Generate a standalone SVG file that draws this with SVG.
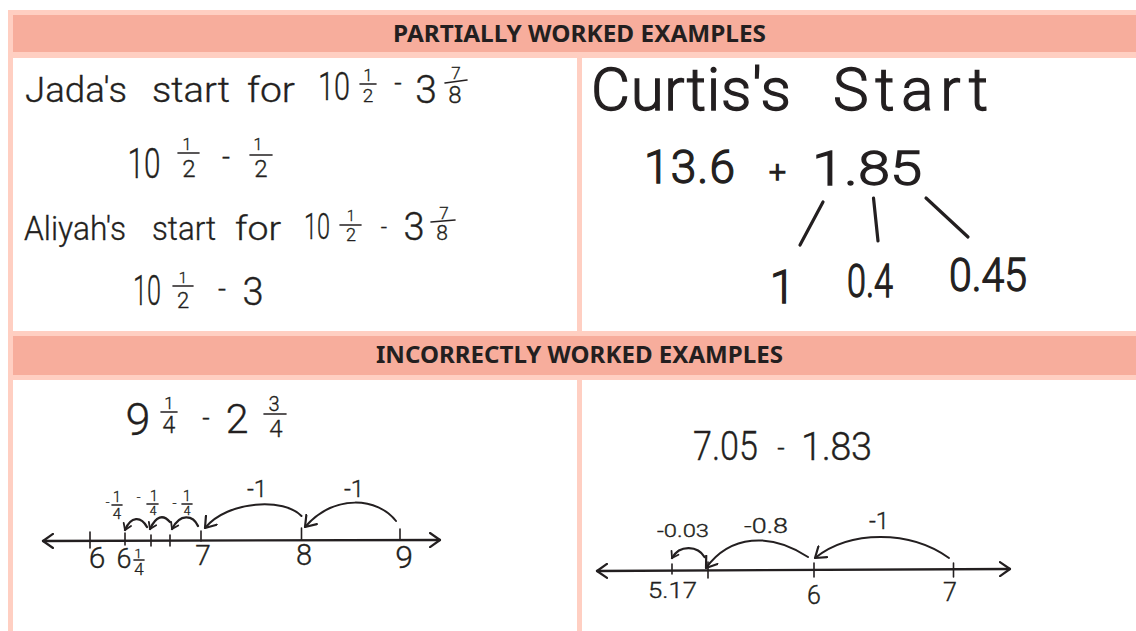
<svg xmlns="http://www.w3.org/2000/svg" width="1136" height="631" viewBox="0 0 1136 631">
<style>
.band{fill:#f7ad9c}
.head{font-family:"Noto Sans","Liberation Sans",sans-serif;font-weight:700;font-size:23px;fill:#231f20;text-anchor:middle}
.h{font-family:"Roboto","Liberation Sans",sans-serif;font-weight:300;fill:#231f20;stroke:#231f20;stroke-width:.35;text-anchor:middle}
.b{stroke-width:1.3}
.l{fill:none;stroke:#231f20;stroke-width:1.6;stroke-linecap:round}
.t{stroke-width:3.2}
.a{fill:none;stroke:#231f20;stroke-width:2;stroke-linecap:round}
.n{fill:none;stroke:#231f20;stroke-width:2.3;stroke-linecap:round}
</style>
<defs>
<marker id="open" viewBox="-11 -8 13 16" refX="0" refY="0" markerUnits="userSpaceOnUse" markerWidth="13" markerHeight="16" orient="auto-start-reverse"><path d="M-10-7L0 0L-10 7" fill="none" stroke="#231f20" stroke-width="2.2" stroke-linecap="round" stroke-linejoin="round"/></marker>
<marker id="small" viewBox="-8 -6 10 12" refX="0" refY="0" markerUnits="userSpaceOnUse" markerWidth="10" markerHeight="12" orient="auto"><path d="M-6-4L0 0L-6 4" fill="none" stroke="#231f20" stroke-width="1.8" stroke-linecap="round" stroke-linejoin="round"/></marker>
</defs>
<rect x="8" y="10" width="1128" height="621" fill="#ffcfc2"/>

<g id="band-partial"><rect class="band" x="13" y="15" width="1123" height="37"/><text class="head" x="579.5" y="42" textLength="373" lengthAdjust="spacingAndGlyphs">PARTIALLY WORKED EXAMPLES</text></g>

<g id="panel-jada-aliyah">
<rect x="13" y="58" width="564" height="273" fill="#fff"/>
<text class="h" x="76" y="102" font-size="35" textLength="102" lengthAdjust="spacingAndGlyphs">Jada's</text>
<text class="h" x="191" y="102" font-size="35" textLength="78" lengthAdjust="spacingAndGlyphs">start</text>
<text class="h" x="271" y="102" font-size="35" textLength="48" lengthAdjust="spacingAndGlyphs">for</text>
<text class="h" x="334" y="100" font-size="38" textLength="32" lengthAdjust="spacingAndGlyphs">10</text>
<text class="h" x="368" y="81" font-size="16">1</text><path class="l" d="M360 84H376"/><text class="h" x="368" y="102" font-size="19">2</text>
<text class="h" x="398" y="92" font-size="26">-</text>
<text class="h" x="426" y="103" font-size="39">3</text>
<text class="h" x="456" y="79" font-size="17">7</text><path class="l" d="M445 83L467 80"/><text class="h" x="455" y="103" font-size="24">8</text>

<text class="h" x="144" y="178" font-size="42" textLength="33" lengthAdjust="spacingAndGlyphs">10</text>
<text class="h" x="187" y="150" font-size="16">1</text><path class="l" d="M178 153H199"/><text class="h" x="189" y="177" font-size="24">2</text>
<text class="h" x="226" y="166" font-size="28">-</text>
<text class="h" x="258" y="150" font-size="16">1</text><path class="l" d="M250 155H272"/><text class="h" x="261" y="177" font-size="24">2</text>

<text class="h" x="75" y="240" font-size="33" textLength="102" lengthAdjust="spacingAndGlyphs">Aliyah's</text>
<text class="h" x="184" y="240" font-size="33" textLength="64" lengthAdjust="spacingAndGlyphs">start</text>
<text class="h" x="258" y="240" font-size="33" textLength="46" lengthAdjust="spacingAndGlyphs">for</text>
<text class="h" x="317" y="239" font-size="36" textLength="26" lengthAdjust="spacingAndGlyphs">10</text>
<text class="h" x="351" y="221" font-size="14">1</text><path class="l" d="M340 225H361"/><text class="h" x="351" y="241" font-size="18">2</text>
<text class="h" x="384" y="235" font-size="22">-</text>
<text class="h" x="414" y="240" font-size="38">3</text>
<text class="h" x="444" y="219" font-size="17">7</text><path class="l" d="M431 222L455 220"/><text class="h" x="442" y="240" font-size="21">8</text>

<text class="h" x="147" y="305" font-size="42" textLength="28" lengthAdjust="spacingAndGlyphs">10</text>
<text class="h" x="183" y="283" font-size="15">1</text><path class="l" d="M173 286H193"/><text class="h" x="183" y="308" font-size="22">2</text>
<text class="h" x="222" y="298" font-size="28">-</text>
<text class="h" x="253" y="305" font-size="38">3</text>
</g>

<g id="panel-curtis">
<rect x="582" y="58" width="554" height="273" fill="#fff"/>
<text class="h b" x="691" y="110" font-size="60" textLength="200">Curtis's</text>
<text class="h b" x="910.5" y="110" font-size="60" textLength="155">Start</text>
<text class="h b" x="689.5" y="183" font-size="46" textLength="91">13.6</text>
<text class="h b" x="777.5" y="182" font-size="30">+</text>
<text class="h b" x="867" y="185" font-size="48" textLength="110" lengthAdjust="spacingAndGlyphs">1.85</text>
<text class="h b" x="782.5" y="303" font-size="46">1</text>
<text class="h b" x="870" y="297" font-size="46" textLength="46" lengthAdjust="spacingAndGlyphs">0.4</text>
<text class="h b" x="988" y="291" font-size="46" textLength="78" lengthAdjust="spacingAndGlyphs">0.45</text>
</g>

<g id="band-incorrect"><rect class="band" x="13" y="336" width="1123" height="39"/><text class="head" x="579.5" y="363" textLength="407" lengthAdjust="spacingAndGlyphs">INCORRECTLY WORKED EXAMPLES</text></g>

<g id="panel-fractions">
<rect x="13" y="380" width="564" height="251" fill="#fff"/>
<text class="h" x="138" y="435" font-size="45">9</text>
<text class="h" x="169" y="409" font-size="17">1</text><path class="l" d="M161 412H177"/><text class="h" x="169" y="433" font-size="23">4</text>
<text class="h" x="206" y="427" font-size="26">-</text>
<text class="h" x="237" y="433" font-size="41">2</text>
<text class="h" x="274" y="411" font-size="20">3</text><path class="l" d="M264 414H286"/><text class="h" x="276" y="437" font-size="24">4</text>

<text class="h" x="97" y="568" font-size="30">6</text>
<text class="h" x="124" y="568" font-size="27">6</text>
<text class="h" x="138" y="558" font-size="13">1</text><path class="l" d="M134 560H144"/><text class="h" x="139" y="575" font-size="17">4</text>
<text class="h" x="203" y="565" font-size="28">7</text>
<text class="h" x="304" y="565" font-size="29">8</text>
<text class="h" x="404" y="568" font-size="32">9</text>

<text class="h" x="257" y="497" font-size="24">-1</text>
<text class="h" x="354" y="497" font-size="24">-1</text>
<text class="h" x="107.500" y="507" font-size="13">-</text>
<text class="h" x="117" y="502" font-size="14">1</text><path class="l" d="M112 505H122"/><text class="h" x="117" y="519" font-size="15">4</text>
<text class="h" x="138.500" y="502" font-size="13">-</text>
<text class="h" x="154" y="501" font-size="14">1</text><path class="l" d="M147 504H158"/><text class="h" x="153" y="515" font-size="12">4</text>
<text class="h" x="174.500" y="508" font-size="14">-</text>
<text class="h" x="187" y="501" font-size="14">1</text><path class="l" d="M182 504H192"/><text class="h" x="187" y="515" font-size="12">4</text>
</g>

<g id="panel-decimals">
<rect x="582" y="380" width="554" height="251" fill="#fff"/>
<text class="h" x="725.500" y="460" font-size="40" textLength="65" lengthAdjust="spacingAndGlyphs">7.05</text>
<text class="h" x="781" y="457" font-size="26">-</text>
<text class="h" x="836.500" y="460" font-size="38" textLength="71">1.83</text>
<text class="h" x="672.500" y="598" font-size="22" textLength="49" lengthAdjust="spacingAndGlyphs">5.17</text>
<text class="h" x="814" y="604" font-size="25">6</text>
<text class="h" x="950" y="601" font-size="25">7</text>
<text class="h" x="683" y="537" font-size="18" textLength="52" lengthAdjust="spacingAndGlyphs">-0.03</text>
<text class="h" x="766" y="533" font-size="21" textLength="44" lengthAdjust="spacingAndGlyphs">-0.8</text>
<text class="h" x="879" y="529" font-size="24">-1</text>
</g>

<g id="connectors">
<path class="l t" d="M823 202L800 245M873.500 198L878 241M926 198L968 237"/>
<path class="n" marker-start="url(#open)" marker-end="url(#open)" d="M43 541L440 540"/>
<path class="l" d="M90 532V548M125 533V545M151 535V546M170 535V546M201 531V541M301.500 528V540M400 529V540"/>
<path class="a" marker-end="url(#open)" d="M396 521C378 498 335 493 305 527"/>
<path class="a" marker-end="url(#open)" d="M301.500 516C285 498 228 500 205 528"/>
<path class="n" marker-end="url(#small)" d="M198 526C193 515 180 513 172 529"/>
<path class="n" marker-end="url(#small)" d="M170 522C163 514 156 516 150 529"/>
<path class="n" marker-end="url(#small)" d="M147 527C141 516 131 516 125 530"/>
<path class="n" marker-start="url(#open)" marker-end="url(#open)" d="M597 571L1010 569"/>
<path class="l" d="M672 564V574M708 562V578M814 563V577M953.500 563V577"/>
<path class="a" marker-end="url(#open)" d="M949 558C910 530 850 530 815 558"/>
<path class="a" marker-end="url(#open)" d="M808 557C770 532 730 535 706 568"/>
<path class="n" marker-end="url(#small)" d="M704.500 557C698 546 680 544 672 558"/>
</g>
</svg>
